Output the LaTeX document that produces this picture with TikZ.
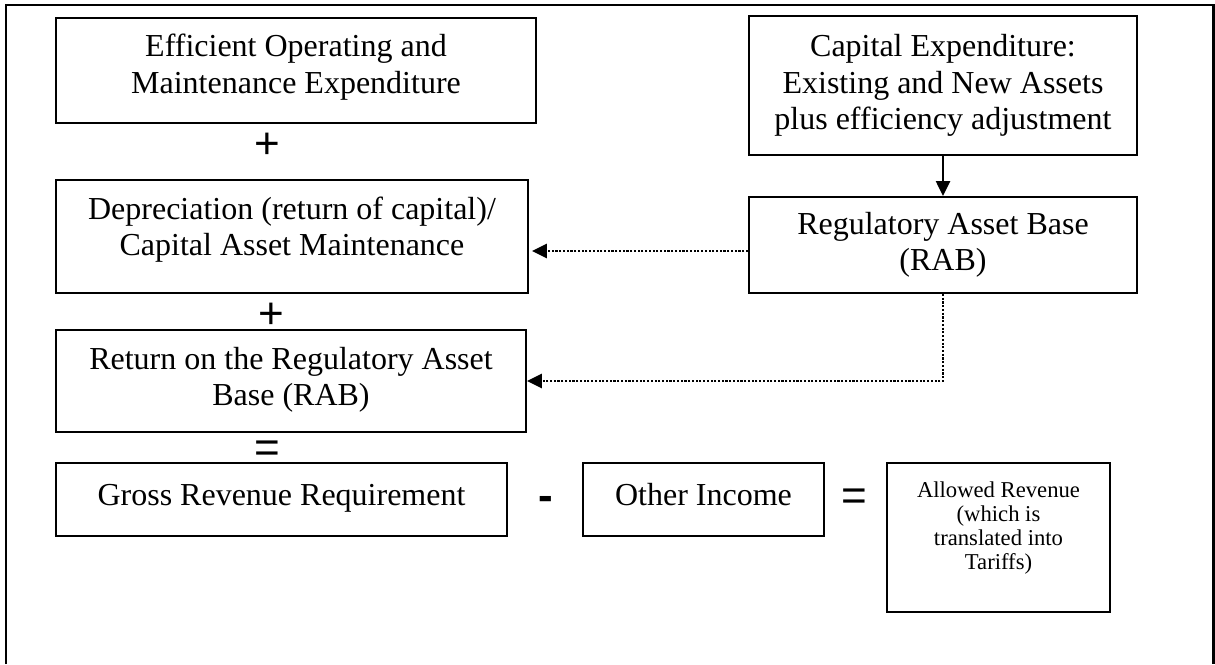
\documentclass[tikz,border=0pt]{standalone}
\usepackage{fontspec}
\setmainfont{Liberation Serif}
\newfontfamily\symfont{Liberation Sans}
\usetikzlibrary{arrows.meta,fit,calc}
\newlength\upx
\setlength\upx{0.375pt}
\newcommand\tx[2]{\parbox[t]{#1\upx}{\centering\fontsize{12}{13.5}\selectfont #2}}
\newcommand\txs[2]{\parbox[t]{#1\upx}{\centering\fontsize{8.5}{9.1}\selectfont #2}}
\begin{document}
\begin{tikzpicture}[x=0.375pt, y=-0.375pt,
  box/.style={draw, line width=0.75pt, inner sep=0pt},
  txt/.style={anchor=base, inner sep=0pt},
  sym/.style={inner sep=0pt, font=\symfont\fontsize{16.5}{16.5}\selectfont},
  tip/.style={-{Triangle[length=5.6pt,width=5.3pt]}},
  dotarrow/.style={tip, line width=0.85pt, dash pattern=on 0.8pt off 0.6pt},
  solidarrow/.style={tip, line width=0.75pt}]
\useasboundingbox (0,0) rectangle (1215,664);
% outer frame
\draw[line width=1pt] (6,664) -- (6,5) -- (1213.5,5) -- (1213.5,664);
% boxes
\node[box, fit={(56,18) (536,123)}] (b1) {};
\node[box, fit={(56,180) (528,293)}] (b3) {};
\node[box, fit={(56,330) (526,432)}] (b4) {};
\node[box, fit={(56,463) (507,536)}] (gross) {};
\node[box, fit={(583,463) (824,536)}] (other) {};
\node[box, fit={(887,463) (1110,612)}] (allowed) {};
\node[box, fit={(749,16) (1137,155)}] (cap) {};
\node[box, fit={(749,197) (1137,293)}] (rab) {};
% texts
\node[txt] (t1) at (296,57) {\tx{460}{Efficient Operating and\\Maintenance Expenditure}};
\node[txt] (t3) at (292,219) {\tx{460}{Depreciation (return of capital)/\\Capital Asset Maintenance}};
\node[txt] (t4) at (291,369) {\tx{460}{Return on the Regulatory Asset\\Base (RAB)}};
\node[txt] (tg) at (281.5,505) {\tx{440}{Gross Revenue Requirement}};
\node[txt] (to) at (703.5,505) {\tx{230}{Other Income}};
\node[txt] (ta) at (998.5,497) {\txs{215}{Allowed Revenue\\(which is\\translated into\\Tariffs)}};
\node[txt] (tc) at (943,57) {\tx{380}{Capital Expenditure:\\Existing and New Assets\\plus efficiency adjustment}};
\node[txt] (tr) at (943,234) {\tx{380}{Regulatory Asset Base\\(RAB)}};
% operators
\node[sym] (p1) at (267,146) {+};
\node[sym] (p2) at (271,316) {+};
\node[sym] (e1) at (267,452) {=};
\node[sym, font=\symfont\bfseries\fontsize{16.5}{16.5}\selectfont] (mn) at (546,503) {-};
\node[sym] (e2) at (854,500) {=};
% connectors
\draw[solidarrow] (cap.south) -- (rab.north);
\coordinate (r1) at ($(rab.west)+(0,6)$);
\draw[dotarrow, shorten >=3\upx] (r1) -- (r1 -| b3.east);
\draw[dotarrow] (rab.south) |- (b4.east);
\end{tikzpicture}
\end{document}
